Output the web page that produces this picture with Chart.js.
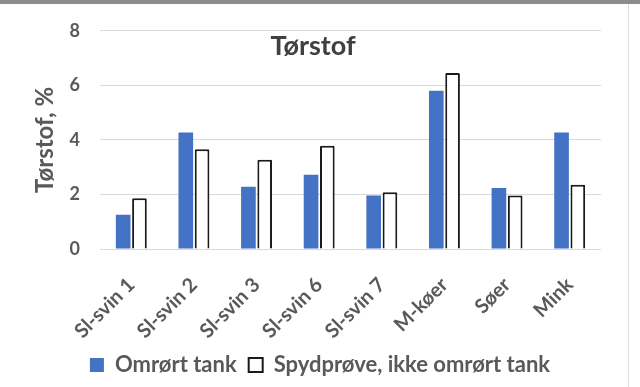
<!DOCTYPE html>
<html>
<head>
<meta charset="utf-8">
<script src="https://cdn.jsdelivr.net/npm/chart.js@4"></script>
<style>
  body { margin: 0; background: #fff; }
  .wrap { position: relative; width: 640px; height: 387px; }
  .top-rule { position: absolute; left: 0; top: 0; width: 640px; height: 4px; background: #8c8c8c; }
  .side-rule { position: absolute; left: 628px; top: 4px; width: 1px; height: 383px; background: #dcdcdc; }
</style>
</head>
<body>
<div class="wrap">
  <canvas id="torstofChart" width="640" height="387"></canvas>
  <div class="top-rule"></div>
  <div class="side-rule"></div>
</div>
<script>
const categories = ['Sl-svin 1', 'Sl-svin 2', 'Sl-svin 3', 'Sl-svin 6', 'Sl-svin 7', 'M-køer', 'Søer', 'Mink'];
const omroertTank = [1.26, 4.27, 2.28, 2.72, 1.96, 5.80, 2.24, 4.27];
const spydproeve = [1.86, 3.66, 3.27, 3.79, 2.08, 6.45, 1.96, 2.36];
const yTicks = [0, 2, 4, 6, 8];

const grey = '#595959';
const fontFamily = 'Lato, "Open Sans", sans-serif';

const titlePlugin = {
    id: 'innerTitle',
    afterDraw(chart) {
        const ctx = chart.ctx;
        ctx.save();
        ctx.font = 'bold 27px ' + fontFamily;
        ctx.fillStyle = '#404040';
        ctx.textAlign = 'center';
        ctx.textBaseline = 'middle';
        ctx.fillText('Tørstof', 313, 46);
        ctx.restore();
    }
};

const ctx = document.getElementById('torstofChart');

new Chart(ctx, {
    type: 'bar',
    data: {
        labels: categories,
        datasets: [
            {
                label: 'Omrørt tank',
                data: omroertTank,
                backgroundColor: '#4472C4',
                borderWidth: 0,
                categoryPercentage: 0.52,
                barPercentage: 0.9
            },
            {
                label: 'Spydprøve, ikke omrørt tank',
                data: spydproeve,
                backgroundColor: '#ffffff',
                borderColor: '#1a1a1a',
                borderWidth: 2,
                borderRadius: 1,
                categoryPercentage: 0.52,
                barPercentage: 0.9
            }
        ]
    },
    options: {
        responsive: false,
        animation: false,
        layout: {
            padding: { top: 27, left: 0, right: 0, bottom: 1 }
        },
        plugins: {
            legend: {
                display: true,
                position: 'bottom',
                labels: {
                    boxWidth: 14,
                    boxHeight: 14,
                    padding: 12,
                    color: grey,
                    font: { family: fontFamily, size: 22, weight: 'bold' }
                }
            },
            tooltip: { enabled: false }
        },
        scales: {
            x: {
                grid: { display: false },
                border: { display: false },
                ticks: {
                    minRotation: 45,
                    maxRotation: 45,
                    padding: 16,
                    color: grey,
                    font: { family: fontFamily, size: 20, weight: 'bold' }
                },
                afterFit(scale) { scale.height = 93; }
            },
            y: {
                min: 0,
                max: 8,
                afterBuildTicks(scale) {
                    scale.ticks = yTicks.map(v => ({ value: v }));
                },
                grid: { color: '#d9d9d9', drawTicks: false },
                border: { display: false },
                ticks: {
                    padding: 20,
                    color: grey,
                    font: { family: fontFamily, size: 18, weight: 'bold' }
                },
                title: {
                    display: true,
                    text: 'Tørstof, %',
                    color: grey,
                    padding: { top: 31, bottom: 0 },
                    font: { family: fontFamily, size: 24, weight: 'bold' }
                },
                afterFit(scale) { scale.width = 100; }
            },
            right: {
                position: 'right',
                display: true,
                grid: { display: false },
                border: { display: false },
                ticks: { display: false },
                afterFit(scale) { scale.width = 39; }
            }
        }
    },
    plugins: [titlePlugin]
});
</script>
</body>
</html>
